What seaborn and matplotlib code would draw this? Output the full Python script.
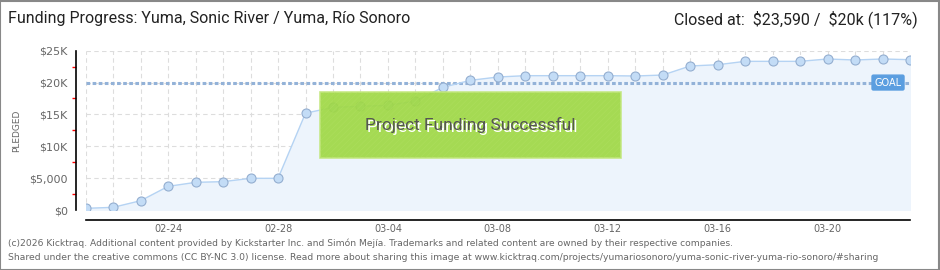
import matplotlib
matplotlib.use("Agg")
import matplotlib.pyplot as plt
import seaborn as sns
import pandas as pd
import numpy as np
from matplotlib.patches import Rectangle
from matplotlib.ticker import MultipleLocator

dates = ["02-21", "02-22", "02-23", "02-24", "02-25", "02-26", "02-27", "02-28",
         "03-01", "03-02", "03-03", "03-04", "03-05", "03-06", "03-07", "03-08",
         "03-09", "03-10", "03-11", "03-12", "03-13", "03-14", "03-15", "03-16",
         "03-17", "03-18", "03-19", "03-20", "03-21", "03-22", "03-23"]
pledged = [260, 420, 1460, 3710, 4340, 4450, 4970, 4970,
           15200, 16100, 16270, 16420, 17100, 19250, 20350, 20870,
           21080, 21080, 21080, 21080, 21030, 21180, 22600, 22800,
           23330, 23330, 23330, 23700, 23540, 23700, 23590]
goal = 20000
labeled_dates = ["02-24", "02-28", "03-04", "03-08", "03-12", "03-16", "03-20"]
ytick_values = [0, 5000, 10000, 15000, 20000, 25000]
ytick_labels = [r"\$0", r"\$5,000", r"\$10K", r"\$15K", r"\$20K", r"\$25K"]

df = pd.DataFrame({"day": np.arange(len(dates)), "date": dates, "pledged": pledged})

sns.set_theme(style="white")
plt.rcParams["font.family"] = ["DejaVu Sans"]
plt.rcParams["hatch.linewidth"] = 0.5

fig = plt.figure(figsize=(9.4, 2.7), dpi=100)
ax = fig.add_axes([85.7 / 940, 1 - 210 / 270, (910 - 85.7) / 940, (210 - 50.7) / 270])
ax.set_facecolor("white")

ax.set_xlim(0, len(dates) - 1)
ax.set_ylim(0, 25000)
ax.grid(True, which="major", color="#dddddd", linestyle=(0, (4, 3)), linewidth=0.8)
ax.set_axisbelow(True)

# area and line
ax.fill_between(df["day"], df["pledged"], 0, color="#edf4fc", zorder=1)
sns.lineplot(data=df, x="day", y="pledged", ax=ax, color="#b5d3f3", linewidth=1.0,
             marker="o", markersize=6.5, markerfacecolor="#c3dcf6",
             markeredgecolor="#94aed0", markeredgewidth=0.8, zorder=3)

# goal line
ax.axhline(goal, color="#93b2d8", linewidth=2.2, linestyle=(0, (1.2, 0.8)), zorder=2)

# goal label
ax.text(29.2, goal, "GOAL", ha="center", va="center", fontsize=7, color="white",
        zorder=6, bbox=dict(boxstyle="round,pad=0.25,rounding_size=0.15", fc="#5b9ee0", ec="#5b9ee0"))

# success banner
bx0, bx1, by0, by1 = 8.54, 19.47, 8160, 18450
banner = Rectangle((bx0, by0), bx1 - bx0, by1 - by0, facecolor="#9fd844",
                   edgecolor="#c3e77f", linewidth=1.2, alpha=0.92, zorder=5)
ax.add_patch(banner)
ax.add_patch(Rectangle((bx0, by0), bx1 - bx0, by1 - by0, facecolor="none",
                       edgecolor="#b2e063", hatch="//////", linewidth=0, alpha=0.5, zorder=5.5))
cx, cy = (bx0 + bx1) / 2, (by0 + by1) / 2
ax.text(cx + 0.06, cy - 250, "Project Funding Successful", ha="center", va="center",
        fontsize=12.5, color="white", zorder=6, family="Roboto")
ax.text(cx, cy, "Project Funding Successful", ha="center", va="center",
        fontsize=12.5, color="#555555", zorder=7, family="Roboto")

# axes styling
for s in ["top", "right"]:
    ax.spines[s].set_visible(False)
ax.spines["left"].set_position(("outward", 7))
ax.spines["bottom"].set_position(("outward", 7))
ax.spines["bottom"].set_bounds(0, len(dates) - 1)
ax.spines["left"].set_bounds(0, 25000)
for s in ["left", "bottom"]:
    ax.spines[s].set_color("black")
    ax.spines[s].set_linewidth(1.2)

ax.set_xticks(df["day"].tolist())
ax.set_xticklabels([d if d in labeled_dates else "" for d in dates], fontsize=7, color="#666666")
ax.set_yticks(ytick_values)
ax.set_yticklabels(ytick_labels, fontsize=8, color="#666666")
ax.yaxis.set_minor_locator(MultipleLocator(2500))
ax.tick_params(axis="x", which="major", direction="inout", length=6, width=1, color="black", pad=0)
ax.tick_params(axis="y", which="major", direction="out", length=4, width=1, color="black", pad=2)
ax.tick_params(axis="y", which="minor", direction="out", length=3, width=1, color="red", left=True)
ax.set_xlabel("")
ax.set_ylabel("PLEDGED", fontsize=6.5, color="#666666", labelpad=6)

# titles
fig.text(8 / 940, 1 - 19 / 270, "Funding Progress: Yuma, Sonic River / Yuma, Río Sonoro",
         fontsize=11.5, color="#222222", ha="left", va="center", family="Roboto")
fig.text(918 / 940, 1 - 19 / 270, r"Closed at:  \$23,590 /  \$20k (117%)",
         fontsize=11.5, color="#222222", ha="right", va="center", family="Roboto")

# footer
fig.text(8 / 940, 1 - 243 / 270,
         "(c)2026 Kicktraq. Additional content provided by Kickstarter Inc. and Simón Mejía. Trademarks and related content are owned by their respective companies.",
         fontsize=6.6, color="#666666", ha="left", va="center")
fig.text(8 / 940, 1 - 257 / 270,
         "Shared under the creative commons (CC BY-NC 3.0) license. Read more about sharing this image at www.kicktraq.com/projects/yumariosonoro/yuma-sonic-river-yuma-rio-sonoro/#sharing",
         fontsize=6.7, color="#666666", ha="left", va="center")

# frame
fig.patches.append(Rectangle((0.0005, 0.001), 0.998, 0.997, transform=fig.transFigure,
                             fill=False, edgecolor="#888888", linewidth=1.5))

fig.savefig("out.png", dpi=100)
